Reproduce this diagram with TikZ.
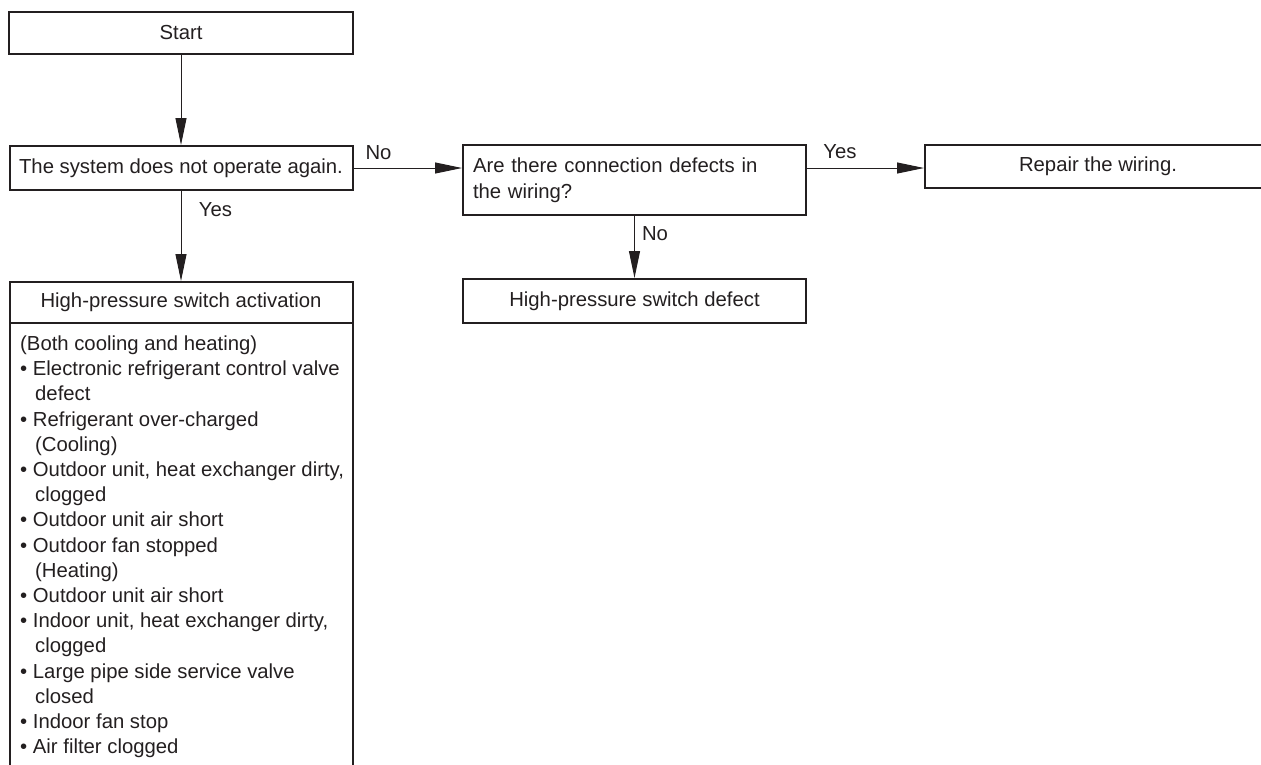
\documentclass[tikz,border=0pt]{standalone}
\usepackage{fontspec}
\setmainfont{Liberation Sans}
\usetikzlibrary{arrows.meta,positioning}
\definecolor{ink}{HTML}{231F20}
\tikzset{
  box/.style={draw=ink, line width=2pt, minimum height=42pt, inner sep=0pt},
  flow/.style={draw=ink, line width=1pt, -{Triangle[length=27pt,width=11pt]}},
  lbl/.style={inner sep=0pt, text=ink}
}

\begin{document}
\begin{tikzpicture}[x=1pt, y=-1pt, font=\fontsize{20.3}{26}\selectfont, text=ink]
  \useasboundingbox (0,0) rectangle (1261,764);
  % left column
  \node[box, minimum width=344pt] (start) at (181,33) {Start};
  \node[box, minimum width=343pt, minimum height=44pt] (sys) at (181,168) {The system does not operate again.};
  \node[box, minimum width=343pt, minimum height=41pt] (act) at (181,302.5) {High-pressure switch activation};
  \node[box, anchor=north, outer sep=0pt, minimum width=343pt, minimum height=470pt] (causes) at ([yshift=1pt]act.south) {};
  \node[lbl, anchor=north west, align=left, font=\fontsize{20.3}{25.2}\selectfont] (list) at (20,335.5) {%
    (Both cooling and heating)\\
    • Electronic refrigerant control valve\\
    \hspace*{15pt}defect\\
    • Refrigerant over-charged\\
    \hspace*{15pt}(Cooling)\\
    • Outdoor unit, heat exchanger dirty,\\
    \hspace*{15pt}clogged\\
    • Outdoor unit air short\\
    • Outdoor fan stopped\\
    \hspace*{15pt}(Heating)\\
    • Outdoor unit air short\\
    • Indoor unit, heat exchanger dirty,\\
    \hspace*{15pt}clogged\\
    • Large pipe side service valve\\
    \hspace*{15pt}closed\\
    • Indoor fan stop\\
    • Air filter clogged};
  % middle and right
  \node[box, text width=323pt, inner xsep=10pt, minimum height=70pt, align=left] (wiring) at (634.5,180) {Are there connection defects in\\the wiring?};
  \node[box, minimum width=343pt, minimum height=44pt] (defect) at (634.5,301) {High-pressure switch defect};
  \node[box, minimum width=346pt, minimum height=43pt] (repair) at (1098,166.5) {Repair the wiring.};
  % connectors
  \draw[flow] (start) -- (sys);
  \draw[flow] (sys) -- (act);
  \draw[flow] (sys.east) -- (sys.east -| wiring.west);
  \draw[flow] (sys.east -| wiring.east) -- (sys.east -| repair.west);
  \draw[flow] (wiring) -- (defect);
  % labels
  \node[lbl] (no1) at (378.5,153) {No};
  \node[lbl] (yes1) at (215.5,210) {Yes};
  \node[lbl] (yes2) at (840,152) {Yes};
  \node[lbl] (no2) at (655,234) {No};
\end{tikzpicture}
\end{document}
